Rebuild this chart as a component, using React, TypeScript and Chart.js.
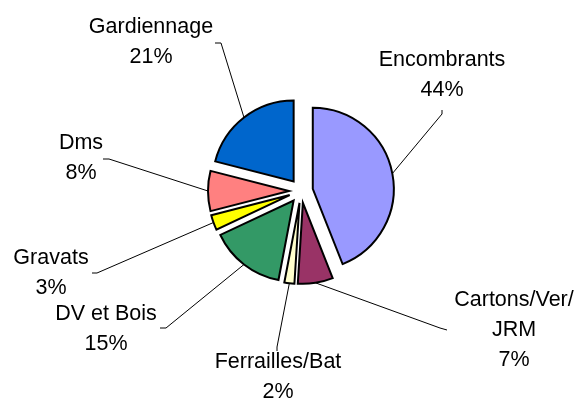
import React, { useEffect, useRef } from "react";
import { Chart, registerables } from "chart.js";

Chart.register(...registerables);

const categories = ["Encombrants", "Cartons/Ver/JRM", "Ferrailles/Bat", "DV et Bois", "Gravats", "Dms", "Gardiennage"];
const values = [44, 7, 2, 15, 3, 8, 21];
const labelLines = [
  ["Encombrants", "44%"],
  ["Cartons/Ver/", "JRM", "7%"],
  ["Ferrailles/Bat", "2%"],
  ["DV et Bois", "15%"],
  ["Gravats", "3%"],
  ["Dms", "8%"],
  ["Gardiennage", "21%"],
];
const colors = ["#9999FF", "#993366", "#FFFFCC", "#339966", "#FFFF00", "#FF8080", "#0066CC"];

// layout of the data labels: text centre x, first-line centre y, leader attach point, elbow point
const labelLayout = [
  { x: 442, y: 60, ax: 442, ay: 110, ex: 442, ey: 114 },
  { x: 514, y: 300, ax: 447, ay: 330, ex: 440, ey: 328 },
  { x: 278, y: 362, ax: 277, ay: 351, ex: 277, ey: 347 },
  { x: 106, y: 314, ax: 160, ay: 328, ex: 166, ey: 328 },
  { x: 51, y: 258, ax: 92, ay: 273, ex: 97, ey: 273 },
  { x: 81, y: 143, ax: 103, ay: 159, ex: 109, ey: 159 },
  { x: 151, y: 27, ax: 215, ay: 43, ex: 221, ey: 43 },
];
const EXPLODE = 12;
const LINE_H = 30;
const FONT = "21.5px 'Liberation Sans', Arial, sans-serif";

const explodePlugin = {
  id: "explode",
  afterUpdate(chart: any) {
    const meta = chart.getDatasetMeta(0);
    meta.data.forEach((arc: any) => {
      const mid = (arc.startAngle + arc.endAngle) / 2;
      arc.x += EXPLODE * Math.cos(mid);
      arc.y += EXPLODE * Math.sin(mid);
    });
  },
};

const labelPlugin = {
  id: "pieLabels",
  afterDraw(chart: any) {
    const ctx = chart.ctx;
    const meta = chart.getDatasetMeta(0);
    ctx.save();
    meta.data.forEach((arc: any, i: number) => {
      const mid = (arc.startAngle + arc.endAngle) / 2;
      const sx = arc.x + arc.outerRadius * Math.cos(mid);
      const sy = arc.y + arc.outerRadius * Math.sin(mid);
      const L = labelLayout[i];
      ctx.strokeStyle = "#000";
      ctx.lineWidth = 1;
      ctx.beginPath();
      ctx.moveTo(L.ax, L.ay);
      ctx.lineTo(L.ex, L.ey);
      ctx.lineTo(sx, sy);
      ctx.stroke();
      ctx.fillStyle = "#000";
      ctx.font = FONT;
      ctx.textAlign = "center";
      ctx.textBaseline = "middle";
      labelLines[i].forEach((t, k) => {
        ctx.fillText(t, L.x, L.y + k * LINE_H);
      });
    });
    ctx.restore();
  },
};

export default function App() {
  const ref = useRef<HTMLCanvasElement>(null);
  useEffect(() => {
    if (!ref.current) return;
    const chart = new Chart(ref.current, {
      type: "pie",
      data: {
        labels: categories,
        datasets: [
          {
            data: values,
            backgroundColor: colors,
            borderColor: "#000",
            borderWidth: 2,
            borderJoinStyle: "miter",
            radius: 81,
          } as any,
        ],
      },
      options: {
        responsive: false,
        animation: false,
        layout: { padding: { left: 25, right: 0, top: 0, bottom: 19 } },
        plugins: { legend: { display: false }, tooltip: { enabled: false } },
      },
      plugins: [explodePlugin, labelPlugin],
    });
    return () => chart.destroy();
  }, []);
  return (
    <div style={{ position: "fixed", left: 0, top: 0, width: 577, height: 401, background: "#fff" }}>
      <canvas ref={ref} width={577} height={401} style={{ display: "block" }} />
    </div>
  );
}
